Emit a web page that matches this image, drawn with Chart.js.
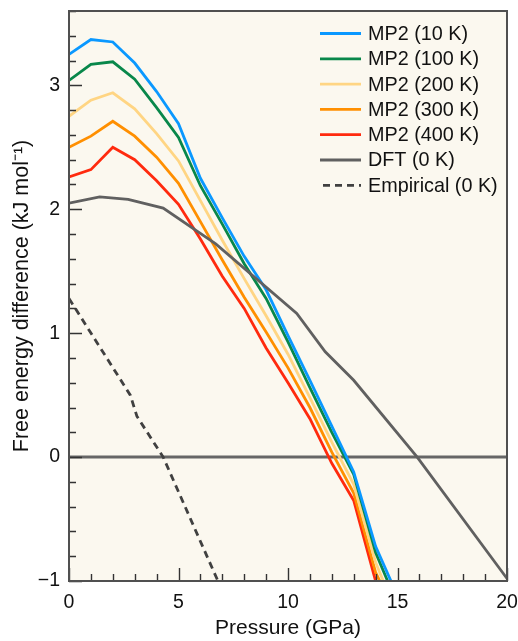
<!DOCTYPE html>
<html>
<head>
<meta charset="utf-8">
<script src="https://cdn.jsdelivr.net/npm/chart.js@4.4.0/dist/chart.umd.min.js"></script>
<style>
  html, body { margin: 0; padding: 0; background: #fff; }
  #wrap { width: 518px; height: 641px; }
</style>
</head>
<body>
<div id="wrap"><canvas id="myChart"></canvas></div>
<script>
// pressures (GPa) and free energy differences (kJ/mol)
const pressureMP2 = [0, 1, 2, 3, 4, 5, 6, 7, 8, 9, 10, 11, 12, 13, 14, 15];
const mp2_10K  = [3.25, 3.37, 3.35, 3.18, 2.95, 2.69, 2.25, 1.93, 1.62, 1.35, 0.98, 0.62, 0.25, -0.12, -0.72, -1.12];
const mp2_100K = [3.04, 3.17, 3.19, 3.05, 2.82, 2.58, 2.19, 1.88, 1.56, 1.28, 0.93, 0.56, 0.20, -0.14, -0.77, -1.19];
const mp2_200K = [2.75, 2.88, 2.94, 2.81, 2.61, 2.39, 2.07, 1.75, 1.44, 1.14, 0.83, 0.48, 0.12, -0.22, -0.85, -1.28];
const mp2_300K = [2.50, 2.59, 2.71, 2.59, 2.42, 2.21, 1.90, 1.59, 1.29, 1.01, 0.72, 0.40, 0.04, -0.29, -0.93, -1.30];
const mp2_400K = [2.26, 2.32, 2.50, 2.40, 2.23, 2.04, 1.76, 1.46, 1.20, 0.88, 0.60, 0.31, -0.05, -0.35, -1.00, -1.40];

const pressureDFT = [0, 1.4, 2.7, 4.3, 6.7, 10.4, 11.7, 13.0, 15.9, 20];
const dftValues   = [2.05, 2.10, 2.08, 2.01, 1.72, 1.16, 0.85, 0.62, 0.0, -0.98];

const pressureEmp = [0, 2.8, 3.1, 4.3, 6.8];
const empValues   = [1.28, 0.50, 0.33, 0.0, -1.0];

const xTickValues = [0, 5, 10, 15, 20];
const yTickValues = [-1, 0, 1, 2, 3];

const FONT = "'Liberation Sans', Arial, Helvetica, sans-serif";

function pts(xs, ys) {
  return xs.map((x, i) => ({ x: x, y: ys[i] }));
}

function line(label, xs, ys, color, extra) {
  return Object.assign({
    label: label,
    data: pts(xs, ys),
    borderColor: color,
    backgroundColor: color,
    borderWidth: 2.8,
    pointRadius: 0,
    tension: 0,
    fill: false,
  }, extra || {});
}

// cream plot background, frame, inward ticks, zero line
const frame = {
  id: 'frame',
  beforeDraw(chart) {
    const { ctx, chartArea: a } = chart;
    ctx.save();
    ctx.fillStyle = '#FBF8EF';
    ctx.fillRect(a.left, a.top, a.right - a.left, a.bottom - a.top);
    ctx.restore();
  },
  beforeDatasetsDraw(chart) {
    const { ctx, chartArea: a, scales } = chart;
    const y0 = scales.y.getPixelForValue(0);
    ctx.save();
    ctx.strokeStyle = '#666666';
    ctx.lineWidth = 3;
    ctx.beginPath();
    ctx.moveTo(a.left, y0);
    ctx.lineTo(a.right, y0);
    ctx.stroke();
    ctx.restore();
  },
  afterDraw(chart) {
    const { ctx, chartArea: a, scales } = chart;
    ctx.save();
    ctx.strokeStyle = '#333';
    ctx.lineWidth = 1.4;
    ctx.beginPath();
    for (let i = 0; i <= 23; i++) {
      const v = -1 + i * 0.2;
      const py = Math.round(scales.y.getPixelForValue(v)) + 0.5;
      const len = (i % 5 === 0) ? 13 : 7;
      ctx.moveTo(a.left, py);
      ctx.lineTo(a.left + len, py);
    }
    for (let v = 0; v <= 20; v++) {
      const px = Math.round(scales.x.getPixelForValue(v)) + 0.5;
      const len = (v % 5 === 0) ? 13 : 7;
      ctx.moveTo(px, a.bottom);
      ctx.lineTo(px, a.bottom - len);
    }
    ctx.stroke();
    ctx.strokeStyle = '#505050';
    ctx.lineWidth = 2;
    ctx.strokeRect(a.left, a.top, a.right - a.left, a.bottom - a.top);

    // legend inside the plot, top right
    ctx.font = '19.8px ' + FONT;
    ctx.textBaseline = 'middle';
    ctx.textAlign = 'left';
    chart.data.datasets.forEach((ds, i) => {
      const yy = 33.5 + i * 25.3;
      ctx.strokeStyle = ds.borderColor;
      ctx.lineWidth = ds.borderWidth;
      ctx.setLineDash(ds.borderDash || []);
      ctx.beginPath();
      if (ds.borderDash) {
        ctx.moveTo(323, yy);
      } else {
        ctx.moveTo(320, yy);
      }
      ctx.lineTo(361, yy);
      ctx.stroke();
      ctx.setLineDash([]);
      ctx.fillStyle = '#111';
      ctx.fillText(ds.label, 368, yy + 1);
    });
    ctx.restore();
  }
};

const ctx = document.getElementById('myChart');

const myChart = new Chart(ctx, {
  type: 'line',
  plugins: [frame],
  data: {
    datasets: [
      line('MP2 (10 K)', pressureMP2, mp2_10K, '#0A98FF', { order: 2 }),
      line('MP2 (100 K)', pressureMP2, mp2_100K, '#08874A', { order: 3 }),
      line('MP2 (200 K)', pressureMP2, mp2_200K, '#FFD583', { order: 4 }),
      line('MP2 (300 K)', pressureMP2, mp2_300K, '#FF8F00', { order: 5 }),
      line('MP2 (400 K)', pressureMP2, mp2_400K, '#FF2A0E', { order: 6 }),
      line('DFT (0 K)', pressureDFT, dftValues, '#606060', { order: 0 }),
      line('Empirical (0 K)', pressureEmp, empValues, '#404040', { order: 1, borderDash: [7, 5] }),
    ],
  },
  options: {
    responsive: true,
    maintainAspectRatio: false,
    animation: false,
    layout: {
      padding: { top: 11, right: 11, left: 0, bottom: 0 },
    },
    plugins: {
      legend: { display: false },
      tooltip: { enabled: false },
    },
    scales: {
      x: {
        type: 'linear',
        min: 0,
        max: 20,
        grid: { display: false, drawTicks: false },
        border: { display: false },
        afterBuildTicks: (s) => { s.ticks = xTickValues.map(v => ({ value: v })); },
        afterFit: (s) => {
          s.height = 60;
          s.paddingLeft = 0;
          s.paddingRight = 0;
        },
        ticks: {
          padding: 10,
          color: '#111',
          font: { family: FONT, size: 19.5 },
          maxRotation: 0,
        },
        title: {
          display: true,
          text: 'Pressure (GPa)',
          color: '#111',
          font: { family: FONT, size: 21 },
          padding: { top: 0, bottom: 0 },
        },
      },
      y: {
        type: 'linear',
        min: -1,
        max: 3.6,
        grid: { display: false, drawTicks: false },
        border: { display: false },
        afterBuildTicks: (s) => { s.ticks = yTickValues.map(v => ({ value: v })); },
        afterFit: (s) => {
          s.width = 69;
          s.paddingTop = 0;
          s.paddingBottom = 0;
        },
        ticks: {
          padding: 9,
          color: '#111',
          font: { family: FONT, size: 19.5 },
          callback: (v) => (v < 0 ? '\u2212' + Math.abs(v) : String(v)),
        },
        title: {
          display: true,
          text: 'Free energy difference (kJ mol\u207B\u00B9)',
          color: '#111',
          font: { family: FONT, size: 21.5 },
          padding: { top: 9, bottom: 0 },
        },
      },
    },
  },
});
</script>
</body>
</html>
